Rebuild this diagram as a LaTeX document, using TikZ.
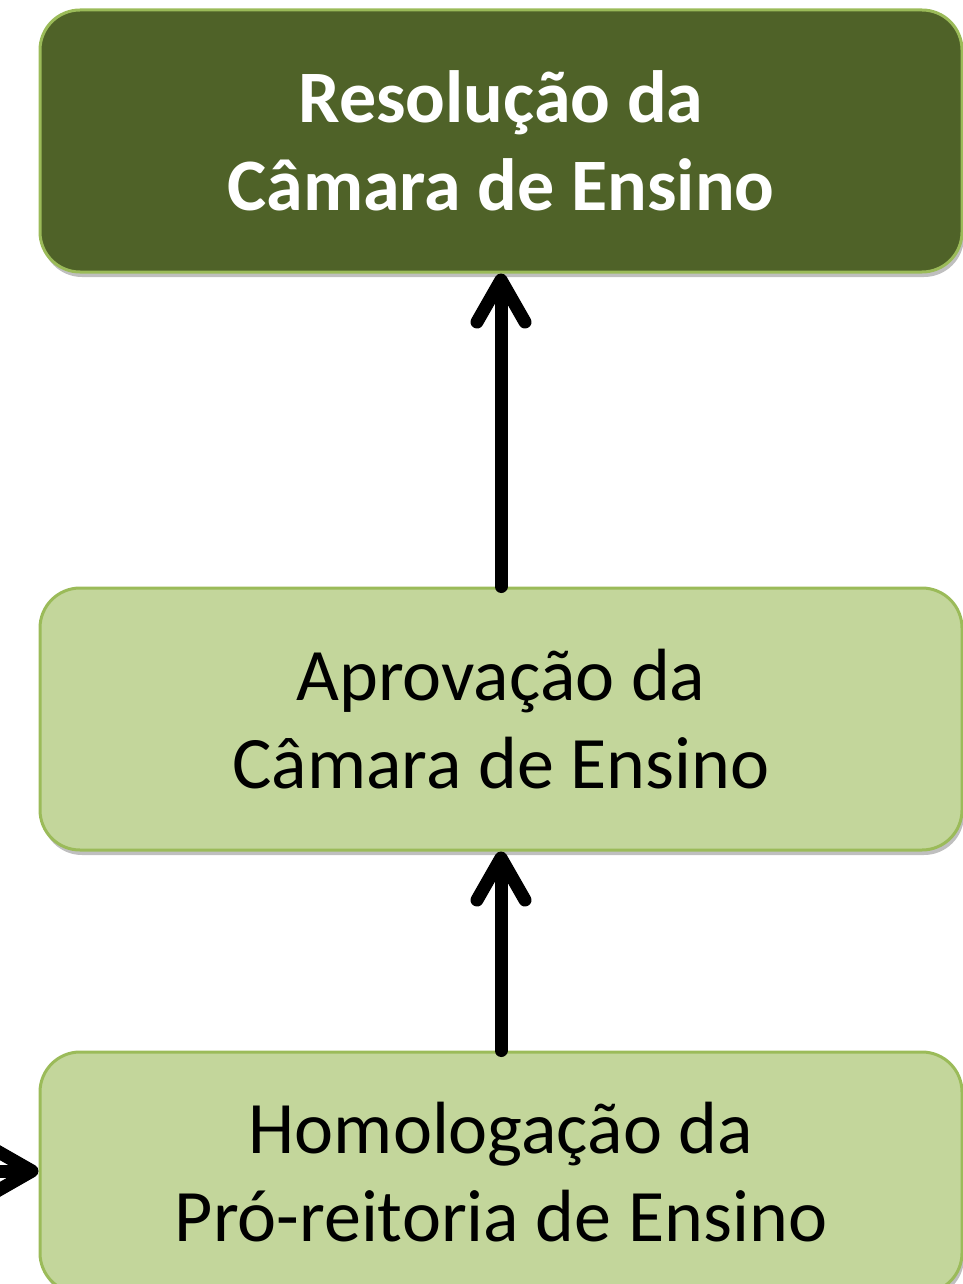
\documentclass[tikz,border=0pt]{standalone}
\usepackage{fontspec}
\setmainfont{Carlito}
\usetikzlibrary{arrows.meta,shadows}
\definecolor{darkolive}{HTML}{4F6228}
\definecolor{lightolive}{HTML}{C3D69B}
\definecolor{olivedge}{HTML}{9BBB59}
\tikzset{
  stagebox/.style={rounded corners=40pt, draw=olivedge, line width=3pt,
    minimum width=922pt, minimum height=262pt, align=center,
    font=\fontsize{74}{88}\selectfont, inner sep=0pt,
    drop shadow={shadow xshift=2pt, shadow yshift=-5pt, opacity=0.25, fill=black}},
  darkstage/.style={stagebox, fill=darkolive, text=white, font=\fontsize{74}{88}\selectfont\bfseries},
  lightstage/.style={stagebox, fill=lightolive, text=black},
  flow/.style={line width=13pt, line cap=round,
    -{Straight Barb[length=42pt, width=48pt, line cap=round, line join=round]}}
}
\begin{document}
\begin{tikzpicture}[x=1pt,y=1pt]
\useasboundingbox (0,0) rectangle (962,-1284);
\node[darkstage] (res) at (501,-141) {Resolução da\\Câmara de Ensino};
\node[lightstage] (apr) at (501,-719) {Aprovação da\\Câmara de Ensino};
\node[lightstage, minimum height=241pt] (hom) at (501,-1172.5) {Homologação da\\Pró-reitoria de Ensino};
\coordinate (src) at (-90,-1171);
\draw[flow] (apr.north) -- (res.south);
\draw[flow] (hom.north) -- (apr.south);
\draw[flow] (src) -- (src -| hom.west);
\end{tikzpicture}
\end{document}
